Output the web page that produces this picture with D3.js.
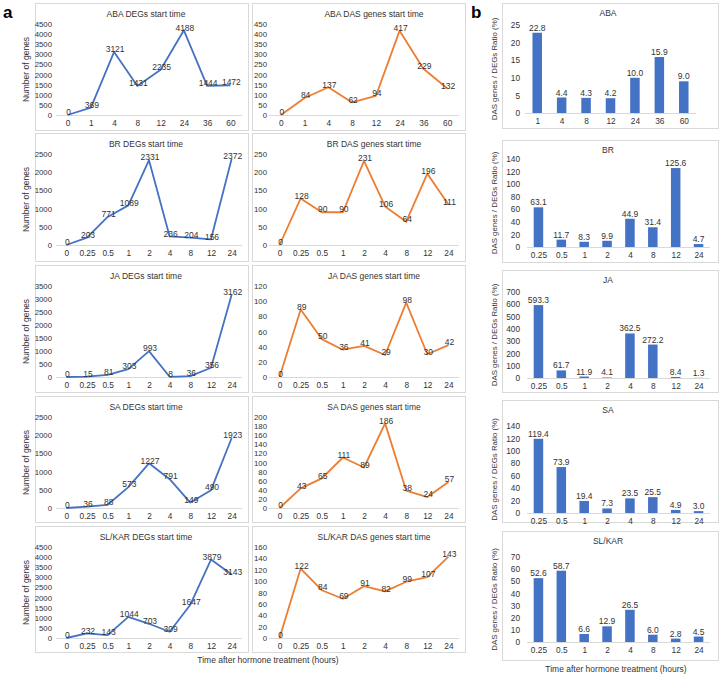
<!DOCTYPE html>
<html><head><meta charset="utf-8">
<script src="https://cdn.jsdelivr.net/npm/d3@7"></script>
<style>
html,body{margin:0;padding:0;background:#fff;}
svg{display:block;font-family:"Liberation Sans",Arial,sans-serif;}
</style></head>
<body><svg id="c" width="720" height="680"></svg>
<script>
// ---------------- data ----------------
const catsABA = ["0","1","4","8","12","24","36","60"];
const catsHor = ["0","0.25","0.5","1","2","4","8","12","24"];
const ratioCatsABA = ["1","4","8","12","24","36","60"];
const ratioCatsHor = ["0.25","0.5","1","2","4","8","12","24"];

const abaDEG = [0,369,3121,1431,2235,4188,1444,1472];
const abaDAS = [0,84,137,62,94,417,229,132];
const brDEG  = [0,203,771,1089,2331,236,204,156,2372];
const brDAS  = [0,128,90,90,231,106,64,196,111];
const jaDEG  = [0,15,81,303,993,8,36,356,3162];
const jaDAS  = [0,89,50,36,41,29,98,30,42];
const saDEG  = [0,36,88,573,1227,791,149,490,1923];
const saDAS  = [0,43,65,111,89,186,38,24,57];
const slDEG  = [0,232,143,1044,703,309,1647,3879,3143];
const slDAS  = [0,122,84,69,91,82,99,107,143];

const abaRatio = [22.8,4.4,4.3,4.2,10.0,15.9,9.0];
const brRatio  = [63.1,11.7,8.3,9.9,44.9,31.4,125.6,4.7];
const jaRatio  = [593.3,61.7,11.9,4.1,362.5,272.2,8.4,1.3];
const saRatio  = [119.4,73.9,19.4,7.3,23.5,25.5,4.9,3.0];
const slRatio  = [52.6,58.7,6.6,12.9,26.5,6.0,2.8,4.5];

const hormones = ["ABA","BR","JA","SA","SL/KAR"];
const degMax = [4500,2500,3500,2500,4500];
const degStep = [500,500,500,500,500];
const dasMax = [450,250,120,200,160];
const dasStep = [50,50,20,20,20];
const ratioMax = [25,140,700,140,70];
const ratioStep = [5,20,100,20,10];

const yLabelA = "Number of  genes";
const yLabelB = "DAS genes / DEGs Ratio (%)";
const xLabel = "Time after hormone treatment (hours)";

const blue = "#4472C4", orange = "#ED7D31";
const txt = "#333333";
const border = "#d9d9d9";

// ---------------- layout ----------------
const svg = d3.select("#c");
const rowsA = [3,133,265,396,526];
const rowsAbot = [130,261,392,522,652];
const rowsB = [3,140,270,400,531];
const rowsBbot = [128,262,392,522,660];
const bTopOff = [22,19,22,26,26];
const bZeroOff = [110,107,108,113,111];

function box(x0,y0,x1,y1){
  svg.append("rect").attr("x",x0+0.5).attr("y",y0+0.5).attr("width",x1-x0).attr("height",y1-y0)
    .attr("fill","#fff").attr("stroke",border).attr("stroke-width",1);
}

function linePanel(o){
  box(o.bx0,o.by0,o.bx1,o.by1);
  const g = svg.append("g");
  const x = d3.scalePoint().domain(o.cats).range([o.px0,o.px1]).padding(0.5);
  const y = d3.scaleLinear().domain([0,o.max]).range([o.zero,o.top]);
  g.append("text").attr("x",o.titleX).attr("y",o.by0+12).attr("text-anchor","middle")
    .attr("dominant-baseline","middle").attr("font-size",8.5).attr("fill",txt).text(o.title);
  const ticks = d3.range(0,o.max+o.step/2,o.step);
  const ya = d3.axisLeft(y).tickValues(ticks).tickSize(0).tickPadding(0).tickFormat(d3.format("d"));
  const yg = g.append("g").attr("transform",`translate(${o.tickX},0)`).call(ya);
  yg.select(".domain").remove();
  yg.selectAll("text").attr("font-size",7.8).attr("fill",txt).attr("font-family","Liberation Sans, Arial");
  const xa = d3.axisBottom(x).tickSize(0).tickPadding(5);
  const xg = g.append("g").attr("transform",`translate(0,${o.zero})`).call(xa);
  xg.select(".domain").attr("stroke",border).attr("d",`M${o.px0},0.5H${o.px1}`);
  xg.selectAll("text").attr("font-size",8.3).attr("fill",txt).attr("font-family","Liberation Sans, Arial");
  const line = d3.line().x((d,i)=>x(o.cats[i])).y(d=>y(d));
  g.append("path").datum(o.vals).attr("d",line).attr("fill","none").attr("stroke",o.color)
    .attr("stroke-width",1.8).attr("stroke-linejoin","round");
  g.selectAll("text.lab").data(o.vals).join("text").attr("class","lab")
    .attr("x",(d,i)=>x(o.cats[i])+1).attr("y",d=>y(d)-2)
    .attr("text-anchor","middle").attr("dominant-baseline","middle")
    .attr("font-size",8.5).attr("fill",txt).text(d=>d);
}

function barPanel(o){
  box(o.bx0,o.by0,o.bx1,o.by1);
  const g = svg.append("g");
  const x = d3.scalePoint().domain(o.cats).range([o.px0,o.px1]).padding(0.5);
  const y = d3.scaleLinear().domain([0,o.max]).range([o.zero,o.top]);
  g.append("text").attr("x",o.titleX).attr("y",o.titleY).attr("text-anchor","middle")
    .attr("dominant-baseline","middle").attr("font-size",8.5).attr("fill",txt).text(o.title);
  const ticks = d3.range(0,o.max+o.step/2,o.step);
  const ya = d3.axisLeft(y).tickValues(ticks).tickSize(0).tickPadding(0).tickFormat(d3.format("d"));
  const yg = g.append("g").attr("transform",`translate(${o.tickX},0)`).call(ya);
  yg.select(".domain").remove();
  yg.selectAll("text").attr("font-size",8.3).attr("fill",txt).attr("font-family","Liberation Sans, Arial");
  const bw = 9.5;
  g.selectAll("rect.bar").data(o.vals).join("rect").attr("class","bar")
    .attr("x",(d,i)=>x(o.cats[i])-bw/2).attr("width",bw)
    .attr("y",d=>y(d)).attr("height",d=>o.zero-y(d)).attr("fill",blue);
  const xa = d3.axisBottom(x).tickSize(0).tickPadding(5);
  const xg = g.append("g").attr("transform",`translate(0,${o.zero})`).call(xa);
  xg.select(".domain").attr("stroke",border).attr("d",`M${o.px0},0.5H${o.px1}`);
  xg.selectAll("text").attr("font-size",8.3).attr("fill",txt).attr("font-family","Liberation Sans, Arial");
  g.selectAll("text.lab").data(o.vals).join("text").attr("class","lab")
    .attr("x",(d,i)=>x(o.cats[i])).attr("y",d=>y(d)-2)
    .attr("text-anchor","middle").attr("font-size",8.5).attr("fill",txt).text(d=>d3.format(".1f")(d));
}

const degData = [abaDEG,brDEG,jaDEG,saDEG,slDEG];
const dasData = [abaDAS,brDAS,jaDAS,saDAS,slDAS];
const ratioData = [abaRatio,brRatio,jaRatio,saRatio,slRatio];

hormones.forEach((h,r)=>{
  const cats = r===0 ? catsABA : catsHor;
  const rc = r===0 ? ratioCatsABA : ratioCatsHor;
  const top = rowsA[r]+21, zero = rowsA[r]+112;
  linePanel({bx0:35,by0:rowsA[r],bx1:248,by1:rowsAbot[r],px0:56,px1:242,tickX:52,titleX:146,
    top,zero,cats,vals:degData[r],max:degMax[r],step:degStep[r],color:blue,title:h+" DEGs start time"});
  linePanel({bx0:252,by0:rowsA[r],bx1:465,by1:rowsAbot[r],px0:269,px1:459,tickX:267,titleX:374,
    top,zero,cats,vals:dasData[r],max:dasMax[r],step:dasStep[r],color:orange,title:h+" DAS genes start time"});
  svg.append("text").attr("transform",`translate(27,${(top+zero)/2}) rotate(-90)`)
    .attr("text-anchor","middle").attr("dominant-baseline","middle").attr("font-size",8.5)
    .attr("fill",txt).text(yLabelA);
  const bt = rowsB[r]+bTopOff[r], bz = rowsB[r]+bZeroOff[r];
  barPanel({bx0:502,by0:rowsB[r],bx1:718,by1:rowsBbot[r],px0:r===0?525:527,px1:r===0?696:710,tickX:520,
    titleX:608,titleY:rowsB[r]+11,top:bt,zero:bz,cats:rc,vals:ratioData[r],max:ratioMax[r],step:ratioStep[r],title:h});
  svg.append("text").attr("transform",`translate(495,${(bt+bz)/2}) rotate(-90)`)
    .attr("text-anchor","middle").attr("dominant-baseline","middle").attr("font-size",7.9)
    .attr("fill",txt).text(yLabelB);
});

svg.append("text").attr("x",268).attr("y",661).attr("text-anchor","middle").attr("dominant-baseline","middle")
  .attr("font-size",8.5).attr("fill",txt).text(xLabel);
svg.append("text").attr("x",616).attr("y",670).attr("text-anchor","middle").attr("dominant-baseline","middle")
  .attr("font-size",8.5).attr("fill",txt).text(xLabel);

svg.append("text").attr("x",3).attr("y",18).attr("font-size",17).attr("font-weight","bold").attr("fill","#000").text("a");
svg.append("text").attr("x",471).attr("y",18).attr("font-size",17).attr("font-weight","bold").attr("fill","#000").text("b");
</script></body></html>
